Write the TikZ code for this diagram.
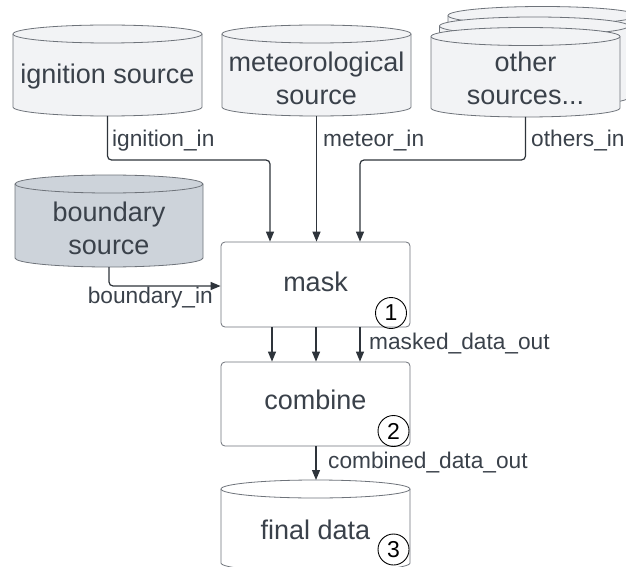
\documentclass[tikz,border=0pt]{standalone}
\usepackage{fontspec}
\setmainfont{Liberation Sans}
\usetikzlibrary{arrows.meta}
\definecolor{txt}{HTML}{3A414A}
\definecolor{edge}{HTML}{2E343B}
\definecolor{shapeline}{HTML}{6E737A}
\definecolor{cylfill}{HTML}{F2F3F5}
\definecolor{bndfill}{HTML}{CDD3DA}
\tikzset{
  nodetext/.style={text=txt, align=center, font=\fontsize{27}{33}\selectfont, inner sep=0pt},
  lbl/.style={text=txt, font=\fontsize{22.7}{27}\selectfont, inner sep=0pt},
  stepbox/.style={draw=shapeline, fill=white, rounded corners=4pt, line width=0.8pt},
  conn/.style={draw=edge, line width=1.2pt, rounded corners=4pt, -{Triangle[length=10pt,width=8pt]}},
  numcirc/.style={draw=black, circle, line width=0.9pt, minimum size=31pt, inner sep=0pt,
    font=\fontsize{23}{27}\selectfont},
}
% cylinder: #1 centre x, #2 top ellipse centre y, #3 bottom side y, #4 half width, #5 fill
\newcommand\dbcyl[5]{%
  \path[draw=shapeline, fill=#5, line width=0.8pt]
    (#1-#4,#2) -- (#1-#4,#3) arc[start angle=180, end angle=360, x radius=#4pt, y radius=9pt]
    -- (#1+#4,#2) arc[start angle=0, end angle=180, x radius=#4pt, y radius=9pt] -- cycle;
  \draw[shapeline, line width=0.8pt] (#1-#4,#2) arc[start angle=180, end angle=360, x radius=#4pt, y radius=9pt];
}
\begin{document}
\begin{tikzpicture}[x=1pt,y=1pt]
\useasboundingbox (0,0) rectangle (626,566);
\clip (0,0) rectangle (626,566);

% stacked cylinders behind "other sources"
\dbcyl{542.5}{550.5}{479}{94.5}{cylfill}
\dbcyl{534}{540}{468.5}{94.5}{cylfill}
\dbcyl{525.5}{529.5}{458}{94.5}{cylfill}
% single cylinders
\dbcyl{107.5}{532}{459}{94.5}{cylfill}
\dbcyl{316.5}{532}{459}{94.5}{cylfill}
\dbcyl{109}{382}{308}{94}{bndfill}
\dbcyl{315.5}{77}{3}{94.5}{white}

% texts and anchors of the data stores
\node[nodetext] (ign) at (107.5,489) {ignition source};
\node[nodetext] (met) at (316.5,488) {meteorological\\source};
\node[nodetext] (oth) at (525.5,488) {other\\sources...};
\node[nodetext] (bnd) at (109,338) {boundary\\source};
\node[nodetext] (fin) at (315.5,36) {final data};
\coordinate (ignB) at (107.5,450);
\coordinate (metB) at (316.5,450);
\coordinate (othB) at (525.5,449);
\coordinate (bndB) at (109,299);
\coordinate (finT) at (316,86);

% processing steps
\node[stepbox, minimum width=189pt, minimum height=85pt] (mask) at (315.5,281.5) {};
\node[nodetext] at (315.5,284) {mask};
\node[stepbox, minimum width=189pt, minimum height=84pt] (comb) at (315.5,162) {};
\node[nodetext] at (315.5,166) {combine};

% numbered markers
\node[numcirc] (n1) at (391,253) {1};
\node[numcirc] (n2) at (393.5,135) {2};
\node[numcirc] (n3) at (393.5,16.5) {3};

% inputs to mask
\draw[conn] (ignB) |- (270,406) -- (mask.north -| 270,0);
\draw[conn] (metB) -- (mask.north -| metB);
\draw[conn] (othB) |- (360,406) -- (mask.north -| 360,0);
\draw[conn] (bndB) |- (mask.west |- 0,280);

% mask to combine
\foreach \xx in {272,316,360}
  \draw[conn] (mask.south -| \xx,0) -- (comb.north -| \xx,0);

% combine to final data
\draw[conn] (comb.south -| finT) -- (finT);

% connector labels
\node[lbl, anchor=west] (l1) at (112,425) {ignition\_in};
\node[lbl, anchor=west] (l2) at (323,425) {meteor\_in};
\node[lbl, anchor=west] (l3) at (531,425) {others\_in};
\node[lbl, anchor=east] (l4) at (213,268) {boundary\_in};
\node[lbl, anchor=west] (l5) at (369,222) {masked\_data\_out};
\node[lbl, anchor=west] (l6) at (328,103) {combined\_data\_out};
\end{tikzpicture}
\end{document}
